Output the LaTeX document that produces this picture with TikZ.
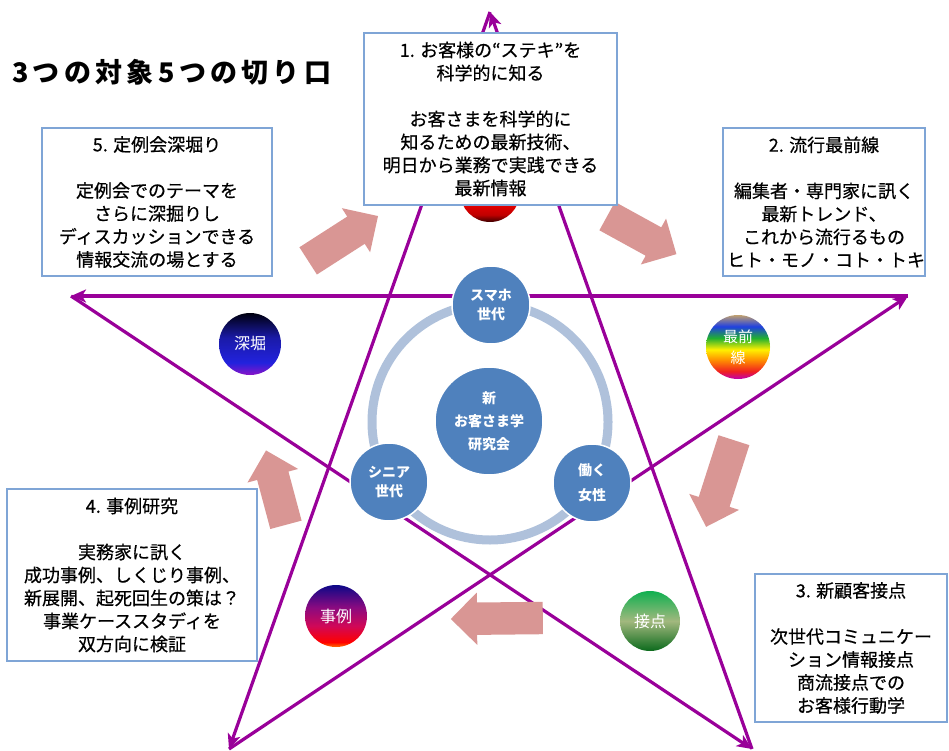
\documentclass[tikz,border=0pt]{standalone}
\usepackage{fontspec}
\setmainfont{Noto Sans CJK JP}
\newfontfamily\titlefont{Noto Sans CJK JP}[LetterSpace=16]
\newfontfamily\boxfont{Noto Sans CJK JP}[BoldFont={Noto Sans CJK JP}, BoldFeatures={FakeBold=0.5}]
\usetikzlibrary{arrows.meta,shapes.arrows}
\definecolor{starpurple}{HTML}{990099}
\definecolor{boxblue}{HTML}{7FA5D6}
\definecolor{ringblue}{HTML}{AFC1DB}
\definecolor{dotblue}{HTML}{4F81BD}
\definecolor{arrowpink}{HTML}{D99694}
% red dot
\definecolor{redT}{HTML}{F00000}
\definecolor{redM}{HTML}{C00000}
\definecolor{redB}{HTML}{3A0000}
% rainbow
\definecolor{rbMag}{HTML}{C000B0}
\definecolor{rbRed}{HTML}{F02020}
\definecolor{rbOra}{HTML}{FF9000}
\definecolor{rbYel}{HTML}{FFF000}
\definecolor{rbGrn}{HTML}{20B030}
\definecolor{rbBlu}{HTML}{2040E0}
\definecolor{rbTan}{HTML}{C0A070}
% fukabori
\definecolor{fkPur}{HTML}{8A14C8}
\definecolor{fkBlu}{HTML}{2222DD}
\definecolor{fkMid}{HTML}{1A1AA8}
\definecolor{fkTop}{HTML}{00000F}
% jirei
\definecolor{jrOra}{HTML}{FF7000}
\definecolor{jrRed}{HTML}{FF0000}
\definecolor{jrMag}{HTML}{D00858}
\definecolor{jrPur}{HTML}{8A0A80}
\definecolor{jrNav}{HTML}{0C0888}
% setten
\definecolor{stBot}{HTML}{0B6A1C}
\definecolor{stMid}{HTML}{A2B87E}
\definecolor{stTop}{HTML}{0FB050}
\pgfdeclareverticalshading{shRed}{100bp}{color(0bp)=(redB); color(25bp)=(redB); color(31bp)=(redM); color(42bp)=(redT); color(75bp)=(redT); color(100bp)=(redT)}
\pgfdeclareverticalshading{shRainbow}{100bp}{color(0bp)=(rbMag); color(25bp)=(rbMag); color(31bp)=(rbRed); color(40bp)=(rbOra); color(48bp)=(rbYel); color(57bp)=(rbGrn); color(66bp)=(rbBlu); color(75bp)=(rbTan); color(100bp)=(rbTan)}
\pgfdeclareverticalshading{shFuka}{100bp}{color(0bp)=(fkPur); color(25bp)=(fkPur); color(35bp)=(fkBlu); color(55bp)=(fkMid); color(75bp)=(fkTop); color(100bp)=(fkTop)}
\pgfdeclareverticalshading{shJirei}{100bp}{color(0bp)=(jrOra); color(25bp)=(jrOra); color(29bp)=(jrRed); color(42bp)=(jrMag); color(57bp)=(jrPur); color(75bp)=(jrNav); color(100bp)=(jrNav)}
\pgfdeclareverticalshading{shSetten}{100bp}{color(0bp)=(stBot); color(25bp)=(stBot); color(50bp)=(stMid); color(75bp)=(stTop); color(100bp)=(stTop)}
\newcommand{\shaftrule}{\rule[-16pt]{0pt}{32pt}}
\begin{document}
\begin{tikzpicture}[x=1pt,y=-1pt,
  starline/.style={draw=starpurple, line width=3.2pt, -{Stealth[length=15pt,width=13pt,inset=4pt]}},
  ringpath/.style={circle, draw=ringblue, line width=9pt, inner sep=0pt, minimum size=236pt},
  bluedot/.style={circle, fill=dotblue, draw=white, line width=1.5pt, inner sep=0pt, text=white, align=center},
  colordot/.style={circle, inner sep=0pt, minimum size=62pt, text=white, align=center, font=\fontsize{16}{21}\selectfont},
  pinkarrow/.style={single arrow, fill=arrowpink, draw=none, inner sep=0pt, single arrow head extend=10pt, single arrow tip angle=90, anchor=tail},
  infobox/.style={rectangle, draw=boxblue, line width=1.3pt, fill=white, align=center, inner sep=0pt, font=\boxfont\bfseries\fontsize{18}{23}\selectfont}
]
\useasboundingbox (0,0) rectangle (949,751);

% star vertices
\coordinate (T) at (490,12);
\coordinate (R) at (908,296);
\coordinate (L) at (71,296);
\coordinate (BL) at (229,749);
\coordinate (BR) at (752,749);

\draw[starline] (BR) -- (T);
\draw[starline] (T) -- (BL);
\draw[starline] (BL) -- (R);
\draw[starline] (R) -- (L);
\draw[starline] (L) -- (BR);

% ring and blue dots
\node[ringpath] (ring) at (490,422) {};
\node[bluedot, minimum size=108pt, font=\fontsize{14}{23}\selectfont\bfseries] (core) at (489,421) {新\\お客さま学\\研究会};
\node[bluedot, minimum size=78pt, font=\fontsize{14}{19}\selectfont\bfseries] (smart) at (491,305) {スマホ\\世代};
\node[bluedot, minimum size=78pt, font=\fontsize{14}{19}\selectfont\bfseries] (senior) at (389,482) {シニア\\世代};
\node[bluedot, minimum size=78pt, font=\fontsize{14}{25}\selectfont\bfseries] (work) at (592,483) {働く\\女性};

% coloured dots
\node[colordot, minimum size=60pt, shading=shRed] (red) at (490,192) {};
\node[colordot, minimum size=64pt, shading=shRainbow, font=\fontsize{15}{21}\selectfont] (saizen) at (738,347) {最前\\線};
\node[colordot, shading=shFuka] (fuka) at (250,344) {深堀};
\node[colordot, minimum size=62pt, shading=shJirei] (jirei) at (336,616) {事例};
\node[colordot, minimum size=60pt, shading=shSetten] (setten) at (650,621) {接点};

% pink block arrows
\node[pinkarrow, minimum height=83pt, rotate=32.7] (pa1) at (308,261) {\shaftrule};
\node[pinkarrow, minimum height=79pt, rotate=-28.8] (pa2) at (607,216) {\shaftrule};
\node[pinkarrow, minimum height=91pt, rotate=-107.8] (pa3) at (734,440) {\shaftrule};
\node[pinkarrow, minimum height=92pt, rotate=180.6] (pa4) at (543,618) {\shaftrule};
\node[pinkarrow, minimum height=77pt, rotate=105] (pa5) at (286,525) {\shaftrule};

% text boxes
\node[infobox, minimum width=253pt, minimum height=172pt] (box1) at (490.5,119)
  {1. お客様の“ステキ”を\\科学的に知る\\[23pt]お客さまを科学的に\\知るための最新技術、\\明日から業務で実践できる\\最新情報};
\node[infobox, minimum width=200pt, minimum height=148pt] (box2) at (824,202)
  {2. 流行最前線\\[23pt]編集者・専門家に訊く\\最新トレンド、\\これから流行るもの\\\ ヒト・モノ・コト・トキ};
\node[infobox, minimum width=192pt, minimum height=148pt] (box3) at (851,648)
  {3. 新顧客接点\\[23pt]次世代コミュニケー\\ション情報接点\\商流接点での\\お客様行動学};
\node[infobox, minimum width=250pt, minimum height=172pt] (box4) at (132,575)
  {4. 事例研究\\[23pt]実務家に訊く\\成功事例、しくじり事例、\\新展開、起死回生の策は？\\事業ケーススタディを\\双方向に検証};
\node[infobox, minimum width=230pt, minimum height=148pt] (box5) at (157,202)
  {5. 定例会深堀り\\[23pt]定例会でのテーマを\\さらに深掘りし\\ディスカッションできる\\情報交流の場とする};

% title
\node[anchor=west, inner sep=0pt, font=\titlefont\fontsize{27}{30}\selectfont\bfseries] (title) at (12,72) {3つの対象5つの切り口};
\end{tikzpicture}
\end{document}
